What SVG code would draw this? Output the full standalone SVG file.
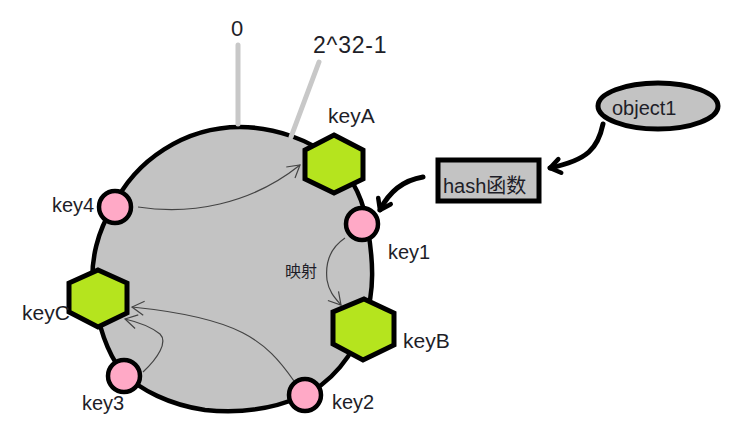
<svg xmlns="http://www.w3.org/2000/svg" width="733" height="438" viewBox="0 0 733 438">
<style>
.t{font-family:"Liberation Sans","Noto Sans CJK SC",sans-serif;fill:#1e1e28}
.hex{fill:#b5e41e;stroke:#000;stroke-width:5;stroke-linejoin:miter}
.key{fill:#ffa9c6;stroke:#000;stroke-width:4.5}
.thick{fill:none;stroke:#000;stroke-width:5;stroke-linecap:round}
.thin{fill:none;stroke:#444;stroke-width:1.2}
.gray{stroke:#c8c8c8;stroke-width:5;stroke-linecap:round}
</style>
<defs>
<marker id="ah" markerUnits="userSpaceOnUse" markerWidth="16" markerHeight="16" viewBox="0 0 16 16" refX="13" refY="8" orient="auto" overflow="visible">
<path d="M3,1 L13,8 L3,15" fill="none" stroke="#000" stroke-width="4.5" stroke-linecap="round" stroke-linejoin="round"/>
</marker>
<marker id="at" markerUnits="userSpaceOnUse" markerWidth="16" markerHeight="16" viewBox="0 0 16 16" refX="14" refY="8" orient="auto" overflow="visible">
<path d="M2,1 L14,8 L2,15" fill="none" stroke="#444" stroke-width="1.2"/>
</marker>
</defs>
<rect width="733" height="438" fill="#fff"/>
<g id="ring">
<path d="M240,127 C275,127 310,140 335,160 C355,180 365,205 368,230 C373,260 375,290 365,320 C355,355 330,385 300,397 C270,410 235,413 205,410 C170,405 140,390 122,372 C105,350 97,320 93,290 C90,260 98,230 113,207 C135,160 185,127 240,127 Z" fill="#c3c3c3" stroke="#000" stroke-width="4.5"/>
<line class="gray" x1="238" y1="45" x2="238" y2="124"/>
<line class="gray" x1="319" y1="62" x2="291" y2="137"/>
<text class="t" x="237" y="36" font-size="22" text-anchor="middle">0</text>
<text class="t" x="313" y="53" font-size="23" letter-spacing="0.8">2^32-1</text>
</g>
<g id="connectors">
<path class="thick" d="M603,124 C598,148 588,160 550,168" marker-end="url(#ah)"/>
<path class="thick" d="M423,177 C405,180 390,190 380,210" marker-end="url(#ah)"/>
<path class="thin" d="M138,207 C190,215 250,205 300,165" marker-end="url(#at)"/>
<path class="thin" d="M345,238 C330,248 325,262 327,280 C329,292 335,298 341,305" marker-end="url(#at)"/>
<path class="thin" d="M294,381 C265,340 240,318 132,307" marker-end="url(#at)"/>
<path class="thin" d="M143,372 C158,358 168,342 160,334 C150,326 138,322 125,319" marker-end="url(#at)"/>
<text class="t" x="285" y="277" font-size="16">映射</text>
</g>
<g id="keyA">
<polygon class="hex" points="334,135 363,150 363,179 334,193 305,179 305,150"/>
<text class="t" x="328" y="123" font-size="21">keyA</text>
</g>
<g id="keyB">
<polygon class="hex" points="364,299 394,313 394,345 363,360 333,344 333,312"/>
<text class="t" x="403" y="348" font-size="21">keyB</text>
</g>
<g id="keyC">
<polygon class="hex" points="98,270 127,283 127,313 98,327 69,312 69,283"/>
<text class="t" x="22" y="320" font-size="21">keyC</text>
</g>
<g id="key1">
<circle class="key" cx="362" cy="224" r="16"/>
<text class="t" x="388" y="259" font-size="20">key1</text>
</g>
<g id="key2">
<circle class="key" cx="305" cy="395" r="16"/>
<text class="t" x="332" y="409" font-size="20">key2</text>
</g>
<g id="key3">
<circle class="key" cx="124" cy="376" r="16"/>
<text class="t" x="82" y="410" font-size="20">key3</text>
</g>
<g id="key4">
<circle class="key" cx="115" cy="207" r="16"/>
<text class="t" x="52" y="212" font-size="20">key4</text>
</g>
<g id="object1">
<ellipse cx="658" cy="106" rx="60" ry="23" fill="#c3c3c3" stroke="#000" stroke-width="5"/>
<text class="t" x="612" y="115" font-size="20">object1</text>
</g>
<g id="hash">
<rect x="438" y="160" width="101" height="41" fill="#c3c3c3" stroke="#000" stroke-width="5"/>
<text class="t" x="443" y="193" font-size="20">hash函数</text>
</g>
</svg>
